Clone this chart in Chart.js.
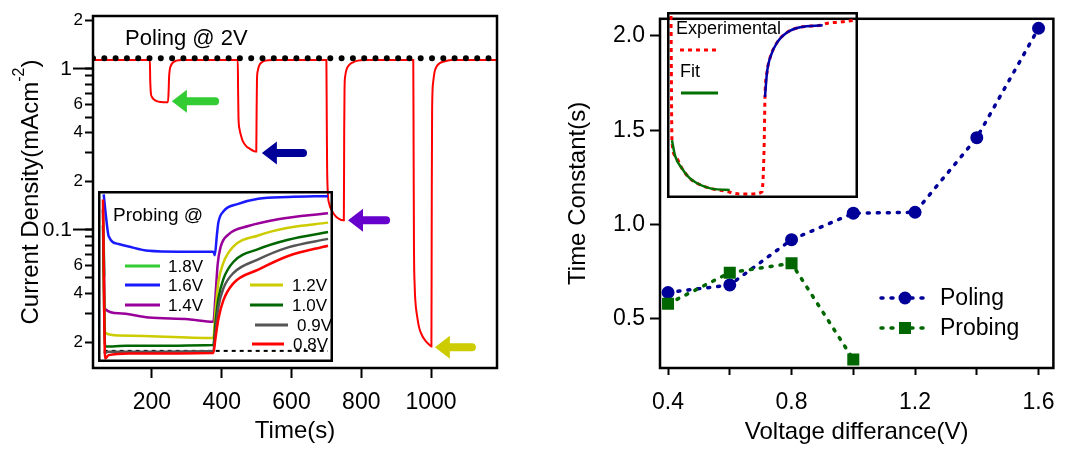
<!DOCTYPE html>
<html>
<head>
<meta charset="utf-8">
<script src="https://cdn.jsdelivr.net/npm/chart.js@4.4.1/dist/chart.umd.min.js"></script>
<style>
  body { margin: 0; background: #fff; }
  #wrap { position: relative; width: 1069px; height: 449px; overflow: hidden; }
  canvas { position: absolute; }
</style>
</head>
<body>
<div id="wrap">
  <canvas id="currentChart" width="540" height="449" style="left:0;top:0"></canvas>
  <canvas id="probeChart" width="235" height="171" style="left:98px;top:191px"></canvas>
  <canvas id="tauChart" width="529" height="449" style="left:540px;top:0"></canvas>
  <canvas id="fitChart" width="191" height="186" style="left:667px;top:12px"></canvas>
</div>
<script>
// ---- left panel: poling trace (time in s, current density in mA/cm2)
const polingTime = [31, 194, 195, 197, 200, 205, 212, 225, 246, 248, 249, 251, 254, 260, 270, 285,
  446, 447, 448, 451, 455, 460, 470, 480, 494, 499, 500, 501, 503, 507, 514, 525, 545,
  700, 701, 702, 704, 708, 715, 725, 735, 748, 750, 751, 752, 754, 758, 765, 775, 790, 810,
  949, 950, 951, 953, 955, 960, 966, 975, 983, 992, 1001, 1002, 1003, 1006, 1010, 1016, 1025, 1040, 1060, 1189];
const polingCurrent = [1.13, 1.13, 0.85, 0.70, 0.665, 0.645, 0.63, 0.62, 0.618, 0.75, 0.88, 0.98, 1.04, 1.09, 1.12, 1.13,
  1.13, 0.7, 0.5, 0.42, 0.385, 0.355, 0.33, 0.318, 0.306, 0.305, 0.55, 0.85, 0.96, 1.04, 1.09, 1.12, 1.13,
  1.13, 0.5, 0.25, 0.17, 0.145, 0.132, 0.122, 0.117, 0.114, 0.114, 0.4, 0.75, 0.9, 0.99, 1.05, 1.09, 1.12, 1.13,
  1.13, 0.3, 0.08, 0.045, 0.036, 0.029, 0.0245, 0.0218, 0.0205, 0.0195, 0.0188, 0.15, 0.55, 0.82, 0.95, 1.03, 1.08, 1.11, 1.13, 1.13];
const polingLevel = 1.16;
const timeRange = [31, 1189];
const currentRange = [0.0138, 2.12];
const timeTicks = [200, 400, 600, 800, 1000];
const currentTicks = [0.02, 0.03, 0.04, 0.05, 0.06, 0.07, 0.08, 0.09, 0.1, 0.2, 0.3, 0.4, 0.5, 0.6, 0.7, 0.8, 0.9, 1, 2];
const currentTickLabels = ['2', '', '4', '', '6', '', '', '', '', '2', '', '4', '', '6', '', '', '', '', '2'];
const currentMajor = [1, 0.1];
const currentMajorLabels = ['1', '0.1'];

// arrows marking the end of each probing step
const arrowTip = [257, 515, 762, 1011];
const arrowTail = [381, 633, 871, 1117];
const arrowLevel = [0.626, 0.299, 0.114, 0.0186];
const arrowColors = ['#33cc33', '#000099', '#6600cc', '#cccc00'];

// ---- left inset: probing traces (arbitrary units)
const probeLabels = ['0.8V', '0.9V', '1.0V', '1.2V', '1.4V', '1.6V', '1.8V'];
const t08 = [7, 10, 15, 43, 162, 165, 169, 176, 190, 225, 267, 323];
const j08 = [95, 2, 4, 5, 5.3, 14, 25, 36, 46, 54, 62, 68];
const t09 = [8, 15, 162, 165, 169, 176, 190, 225, 267, 323];
const j09 = [5, 6, 6.5, 18, 32, 43, 52, 60, 67, 72];
const t10 = [7, 10, 40, 162, 165, 169, 176, 190, 225, 267, 323];
const j10 = [80, 9, 9.5, 10, 23, 37, 48.5, 58.5, 66, 71.5, 76];
const t12 = [7, 10, 29, 162, 165, 169, 176, 190, 225, 267, 323];
const j12 = [85, 17, 15.5, 14, 30, 46.5, 58, 67.5, 74, 78.5, 81.5];
const t14 = [7, 10, 29, 71, 127, 162, 165, 168, 172, 183, 211, 253, 323];
const j14 = [89, 31, 28.5, 26, 25, 23.5, 39, 57, 67, 74.5, 79.5, 83.5, 87];
const t16 = [8, 11, 15, 29, 43, 71, 113, 162, 164, 167, 169, 176, 197, 225, 267, 323];
const j16 = [98, 86, 73.5, 69, 67.5, 65, 64.5, 64.5, 62.5, 74.5, 81.5, 88, 92.5, 95.5, 96.5, 97];
const t18 = [7, 9];
const j18 = [90, 50];
const probeBaseTime = [8, 323];
const probeBaseLevel = 6.5;
const probeColors = ['#ff0000', '#555555', '#006600', '#cccc00', '#990099', '#1a1aff', '#33cc33'];

// ---- right panel: time constants
const polingVolt = [0.4, 0.6, 0.8, 1.0, 1.2, 1.4, 1.6];
const polingTau = [0.64, 0.68, 0.92, 1.06, 1.065, 1.46, 2.04];
const probingVolt = [0.4, 0.6, 0.8, 1.0];
const probingTau = [0.58, 0.745, 0.795, 0.285];
const voltTicks = [0.4, 0.6, 0.8, 1.0, 1.2, 1.4, 1.6];
const voltTickLabels = ['0.4', '', '0.8', '', '1.2', '', '1.6'];
const tauTicks = [0.5, 1.0, 1.5, 2.0];

// ---- right inset: experimental trace and fits (arbitrary units)
const expTime = [2.1, 2.6, 4.2, 7.9, 11.6, 15.3, 23.8, 30.2, 38.1, 45.0, 49.7, 50.8, 51.3, 52.4, 54.0, 57.7, 63.0, 69.8, 80.4, 84.1, 91.0, 98.9];
const expCurrent = [0.978, 0.310, 0.228, 0.158, 0.109, 0.082, 0.049, 0.038, 0.022, 0.022, 0.033, 0.255, 0.543, 0.679, 0.755, 0.837, 0.891, 0.918, 0.929, 0.940, 0.946, 0.957];
const fitDecayTime = [2.6, 4.2, 7.9, 11.6, 15.3, 23.8, 32.8];
const fitDecay = [0.310, 0.228, 0.158, 0.109, 0.082, 0.049, 0.043];
const fitRiseTime = [51.3, 52.4, 54.0, 57.7, 63.0, 69.8, 81.5];
const fitRise = [0.543, 0.679, 0.755, 0.837, 0.891, 0.918, 0.929];

const FONT = '"Liberation Sans", Arial, sans-serif';
Chart.defaults.font.family = FONT;
Chart.defaults.color = '#000';
Chart.defaults.animation = false;

function pairs(xs, ys) {
    return xs.map((x, i) => ({ x: x, y: Array.isArray(ys) ? ys[i] : ys }));
}

function setTicks(values) {
    return scale => { scale.ticks = values.map(v => ({ value: v })); };
}

const tickGrid = len => ({ drawOnChartArea: false, drawTicks: true, tickLength: len, tickWidth: 2, tickColor: '#000' });

// black box around the plot area
const framePlugin = {
    id: 'frame',
    afterDraw(chart, args, opts) {
        const a = chart.chartArea;
        const ctx = chart.ctx;
        const w = opts.width || 2.5;
        const o = opts.inset ? w / 2 : 0;
        ctx.save();
        ctx.strokeStyle = '#000';
        ctx.lineWidth = w;
        ctx.strokeRect(a.left + o, a.top + o, a.right - a.left - 2 * o, a.bottom - a.top - 2 * o);
        ctx.restore();
    }
};

// long major ticks, y title with superscript, arrows and the poling label
const currentDecor = {
    id: 'currentDecor',
    afterDraw(chart) {
        const ctx = chart.ctx;
        const a = chart.chartArea;
        const xs = chart.scales.x, ys = chart.scales.y;
        ctx.save();

        ctx.strokeStyle = '#000';
        ctx.lineWidth = 2;
        ctx.fillStyle = '#000';
        ctx.font = '21px ' + FONT;
        ctx.textAlign = 'right';
        ctx.textBaseline = 'middle';
        currentMajor.forEach((v, i) => {
            const y = ys.getPixelForValue(v);
            ctx.beginPath();
            ctx.moveTo(a.left - 20, y);
            ctx.lineTo(a.left, y);
            ctx.stroke();
            ctx.fillText(currentMajorLabels[i], a.left - 21, y + 1);
        });

        arrowTip.forEach((t, i) => {
            const tip = xs.getPixelForValue(t);
            const tail = xs.getPixelForValue(arrowTail[i]);
            const y = ys.getPixelForValue(arrowLevel[i]);
            ctx.strokeStyle = arrowColors[i];
            ctx.fillStyle = arrowColors[i];
            ctx.lineWidth = 8;
            ctx.lineCap = 'round';
            ctx.beginPath();
            ctx.moveTo(tail, y);
            ctx.lineTo(tip + 12, y);
            ctx.stroke();
            ctx.beginPath();
            ctx.moveTo(tip, y);
            ctx.lineTo(tip + 15, y - 11.5);
            ctx.lineTo(tip + 15, y + 11.5);
            ctx.closePath();
            ctx.fill();
        });

        ctx.fillStyle = '#000';
        ctx.font = '22px ' + FONT;
        ctx.textAlign = 'left';
        ctx.fillText('Poling @ 2V', xs.getPixelForValue(123), ys.getPixelForValue(1.52));

        // y title: Current Density(mAcm^-2)
        const main = 'Current Density(mAcm', sup = '-2', close = ')';
        ctx.font = '24px ' + FONT;
        const w1 = ctx.measureText(main).width, w3 = ctx.measureText(close).width;
        ctx.font = '16px ' + FONT;
        const w2 = ctx.measureText(sup).width;
        ctx.translate(38, (a.top + a.bottom) / 2);
        ctx.rotate(-Math.PI / 2);
        ctx.textBaseline = 'alphabetic';
        let x = -(w1 + w2 + w3) / 2;
        ctx.font = '24px ' + FONT;
        ctx.fillText(main, x, 0);
        x += w1;
        ctx.font = '16px ' + FONT;
        ctx.fillText(sup, x, -14);
        x += w2;
        ctx.font = '24px ' + FONT;
        ctx.fillText(close, x, 0);
        ctx.restore();
    }
};

new Chart(document.getElementById('currentChart'), {
    type: 'line',
    data: {
        datasets: [{
            data: pairs(timeRange, polingLevel),
            borderColor: '#000',
            borderWidth: 6,
            borderDash: [0, 11.3],
            borderCapStyle: 'round',
            pointRadius: 0,
            order: 0
        }, {
            data: pairs(polingTime, polingCurrent),
            borderColor: '#ff0000',
            borderWidth: 2,
            pointRadius: 0,
            cubicInterpolationMode: 'monotone',
            order: 1
        }]
    },
    options: {
        responsive: false,
        layout: { padding: { left: 0, top: 16, right: 43, bottom: 1 } },
        plugins: { legend: { display: false }, tooltip: { enabled: false }, frame: { width: 2.5 } },
        scales: {
            x: {
                type: 'linear',
                min: timeRange[0],
                max: timeRange[1],
                afterBuildTicks: setTicks(timeTicks),
                afterFit: s => { s.height = 80; },
                grid: tickGrid(10),
                border: { display: false },
                ticks: { font: { size: 23 }, padding: 11, autoSkip: false, maxRotation: 0, callback: v => String(v) },
                title: { display: true, text: 'Time(s)', font: { size: 24 }, padding: { top: 0, bottom: 2 } }
            },
            y: {
                type: 'logarithmic',
                min: currentRange[0],
                max: currentRange[1],
                afterBuildTicks: setTicks(currentTicks),
                afterFit: s => { s.width = 93; },
                grid: tickGrid(8),
                border: { display: false },
                ticks: {
                    font: { size: 17 },
                    padding: 2,
                    autoSkip: false,
                    callback: (v, i) => currentTickLabels[i]
                }
            }
        }
    },
    plugins: [framePlugin, currentDecor]
});

// legend inside the probing inset
const probeLegend = {
    id: 'probeLegend',
    afterDraw(chart) {
        const ctx = chart.ctx;
        ctx.save();
        ctx.fillStyle = '#000';
        ctx.textBaseline = 'middle';
        ctx.textAlign = 'left';
        ctx.font = '19px ' + FONT;
        ctx.fillText('Probing @', 15, 25);
        ctx.font = '17px ' + FONT;
        ctx.lineWidth = 3;
        // [index, x0, x1, textX, y]
        const rows = [[6, 27, 62, 70, 75], [5, 27, 62, 70, 94], [4, 27, 62, 70, 114],
            [3, 152, 185, 194, 94], [2, 152, 185, 194, 114], [1, 157, 190, 199, 134], [0, 154, 186, 195, 153]];
        rows.forEach(r => {
            ctx.strokeStyle = probeColors[r[0]];
            ctx.beginPath();
            ctx.moveTo(r[1], r[4]);
            ctx.lineTo(r[2], r[4]);
            ctx.stroke();
            ctx.fillText(probeLabels[r[0]], r[3], r[4] + 1);
        });
        ctx.restore();
    }
};

const probeSeries = [[t08, j08], [t09, j09], [t10, j10], [t12, j12], [t14, j14], [t16, j16], [t18, j18]];
const probeSets = probeSeries.map((s, i) => ({
    data: pairs(s[0], s[1]),
    borderColor: probeColors[i],
    borderWidth: 2.5,
    pointRadius: 0,
    cubicInterpolationMode: 'monotone'
}));
probeSets.push({
    data: pairs(probeBaseTime, probeBaseLevel),
    borderColor: '#000',
    borderWidth: 2,
    borderDash: [4, 4],
    pointRadius: 0
});

new Chart(document.getElementById('probeChart'), {
    type: 'line',
    data: { datasets: probeSets },
    options: {
        responsive: false,
        layout: { padding: 0 },
        plugins: { legend: { display: false }, tooltip: { enabled: false }, frame: { width: 2.5, inset: true } },
        scales: {
            x: { type: 'linear', min: 0, max: 330, display: false },
            y: { type: 'linear', min: 0, max: 100, display: false }
        }
    },
    plugins: [framePlugin, probeLegend]
});

// dotted line + marker legend for the right panel
const tauLegend = {
    id: 'tauLegend',
    afterDraw(chart) {
        const ctx = chart.ctx;
        const rows = [[1, 298], [0, 328]];
        ctx.save();
        rows.forEach(r => {
            const ds = chart.data.datasets[r[0]];
            ctx.strokeStyle = ds.borderColor;
            ctx.fillStyle = ds.borderColor;
            ctx.lineWidth = 3.5;
            ctx.lineCap = 'round';
            ctx.setLineDash([2, 8]);
            ctx.beginPath();
            ctx.moveTo(341, r[1]);
            ctx.lineTo(386, r[1]);
            ctx.stroke();
            ctx.setLineDash([]);
            if (ds.pointStyle === 'rect') {
                ctx.fillRect(359, r[1] - 6, 12, 12);
            } else {
                ctx.beginPath();
                ctx.arc(365, r[1], 6.5, 0, Math.PI * 2);
                ctx.fill();
            }
            ctx.fillStyle = '#000';
            ctx.font = '23px ' + FONT;
            ctx.textBaseline = 'middle';
            ctx.fillText(ds.label, 400, r[1] + 1);
        });
        ctx.restore();
    }
};

new Chart(document.getElementById('tauChart'), {
    type: 'line',
    data: {
        datasets: [{
            label: 'Probing',
            data: pairs(probingVolt, probingTau),
            borderColor: '#006600',
            backgroundColor: '#006600',
            borderWidth: 3.5,
            borderDash: [2, 8],
            borderCapStyle: 'round',
            pointStyle: 'rect',
            pointRadius: 8.5,
            pointBorderWidth: 0,
            order: 0
        }, {
            label: 'Poling',
            data: pairs(polingVolt, polingTau),
            borderColor: '#000099',
            backgroundColor: '#000099',
            borderWidth: 3.5,
            borderDash: [2, 8],
            borderCapStyle: 'round',
            pointStyle: 'circle',
            pointRadius: 6.5,
            pointBorderWidth: 0,
            order: 1
        }]
    },
    options: {
        responsive: false,
        layout: { padding: { left: 20, top: 4, right: 12, bottom: 0 } },
        plugins: { legend: { display: false }, tooltip: { enabled: false }, frame: { width: 2.5 } },
        scales: {
            x: {
                type: 'linear',
                min: 0.374,
                max: 1.648,
                afterBuildTicks: setTicks(voltTicks),
                afterFit: s => { s.height = 81; },
                grid: tickGrid(7),
                border: { display: false },
                ticks: { font: { size: 23 }, padding: 14, autoSkip: false, maxRotation: 0, callback: (v, i) => voltTickLabels[i] },
                title: { display: true, text: 'Voltage differance(V)', font: { size: 24 }, padding: { top: 0, bottom: 2 } }
            },
            y: {
                type: 'linear',
                min: 0.24,
                max: 2.09,
                afterBuildTicks: setTicks(tauTicks),
                afterFit: s => { s.width = 100; },
                grid: tickGrid(10),
                border: { display: false },
                ticks: { font: { size: 23 }, padding: 5, autoSkip: false, callback: v => v.toFixed(1) },
                title: { display: true, text: 'Time Constant(s)', font: { size: 24 }, padding: { top: 4, bottom: 4 } }
            }
        }
    },
    plugins: [framePlugin, tauLegend]
});

// legend inside the fit inset
const fitLegend = {
    id: 'fitLegend',
    afterDraw(chart) {
        const ctx = chart.ctx;
        const exp = chart.data.datasets[2], fit = chart.data.datasets[0];
        ctx.save();
        ctx.fillStyle = '#000';
        ctx.font = '18px ' + FONT;
        ctx.textBaseline = 'middle';
        ctx.fillText(exp.label, 9, 17);
        ctx.fillText(fit.label, 13, 60);
        ctx.lineWidth = 3;
        ctx.strokeStyle = exp.borderColor;
        ctx.setLineDash(exp.borderDash);
        ctx.beginPath();
        ctx.moveTo(13, 38);
        ctx.lineTo(50, 38);
        ctx.stroke();
        ctx.setLineDash([]);
        ctx.strokeStyle = fit.borderColor;
        ctx.beginPath();
        ctx.moveTo(14, 81);
        ctx.lineTo(51, 81);
        ctx.stroke();
        ctx.restore();
    }
};

new Chart(document.getElementById('fitChart'), {
    type: 'line',
    data: {
        datasets: [{
            label: 'Fit',
            data: pairs(fitDecayTime, fitDecay),
            borderColor: '#007000',
            borderWidth: 2.5,
            pointRadius: 0,
            cubicInterpolationMode: 'monotone',
            order: 0
        }, {
            label: 'Fit',
            data: pairs(fitRiseTime, fitRise),
            borderColor: '#0000aa',
            borderWidth: 2.5,
            pointRadius: 0,
            cubicInterpolationMode: 'monotone',
            order: 0
        }, {
            label: 'Experimental',
            data: pairs(expTime, expCurrent),
            borderColor: '#ff0000',
            borderWidth: 3,
            borderDash: [4, 4],
            pointRadius: 0,
            cubicInterpolationMode: 'monotone',
            order: 1
        }]
    },
    options: {
        responsive: false,
        layout: { padding: 0 },
        plugins: { legend: { display: false }, tooltip: { enabled: false }, frame: { width: 2.5, inset: true } },
        scales: {
            x: { type: 'linear', min: 0, max: 100, display: false },
            y: { type: 'linear', min: 0, max: 1, display: false }
        }
    },
    plugins: [framePlugin, fitLegend]
});
</script>
</body>
</html>
